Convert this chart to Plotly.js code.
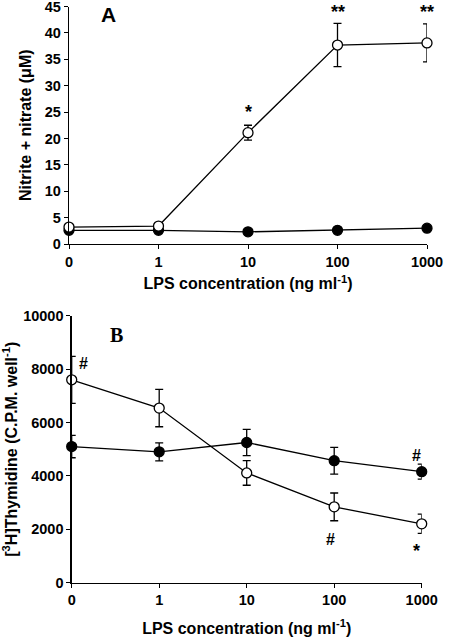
<!DOCTYPE html>
<html>
<head>
<meta charset="utf-8">
<script src="https://cdn.plot.ly/plotly-3.0.1.min.js"></script>
<style>html,body{margin:0;padding:0;background:#fff;}#chart{width:451px;height:640px;}</style>
</head>
<body>
<div id="chart"></div>
<script>
// Categories (LPS concentration, ng/ml) shown at equal spacing
const categories = ['0', '1', '10', '100', '1000'];
const catPos = [0, 1, 2, 3, 4];

// Panel A: nitrite + nitrate (µM)
const nitriteOpen = [3.2, 3.4, 21.1, 37.7, 38.1];
const nitriteOpenErr = [0.3, 0.3, 1.4, 4.1, 3.6];
const nitriteFilled = [2.6, 2.6, 2.3, 2.6, 3.0];
const nitriteFilledErr = [0.2, 0.2, 0.2, 0.2, 0.2];

// Panel B: [3H]thymidine (C.P.M. per well)
const thymOpen = [7600, 6540, 4110, 2840, 2205];
const thymOpenErr = [880, 700, 460, 520, 360];
const thymFilled = [5100, 4900, 5250, 4570, 4160];
const thymFilledErr = [420, 340, 490, 500, 280];

const W = 451, H = 640;
const FONT = 'Liberation Sans, Arial, sans-serif';

function mk(y, err, open, xa, ya) {
  return {
    x: catPos, y: y, xaxis: xa, yaxis: ya, type: 'scatter', mode: 'lines+markers',
    cliponaxis: false, showlegend: false,
    line: {color: '#000', width: 1.3},
    marker: {symbol: 'circle', size: 10, color: open ? '#fff' : '#000', line: {color: '#000', width: 1.3}},
    error_y: {type: 'data', array: err, visible: true, color: '#000', thickness: 1.3, width: 4}
  };
}

const data = [
  mk(nitriteFilled, nitriteFilledErr, false, 'x', 'y'),
  mk(nitriteOpen, nitriteOpenErr, true, 'x', 'y'),
  mk(thymFilled, thymFilledErr, false, 'x2', 'y2'),
  mk(thymOpen, thymOpenErr, true, 'x2', 'y2')
];

const tickFont = {family: FONT, size: 14.5, color: '#000', weight: 'bold'};
const titleFont = {family: FONT, size: 16, color: '#000', weight: 'bold'};

function xax(dom, anchor, standoff) {
  return {
    domain: dom, anchor: anchor, range: [0, 4], tickvals: catPos, ticktext: categories,
    showline: true, linecolor: '#000', linewidth: 1.3, ticks: 'outside', ticklen: 4, tickcolor: '#000',
    showgrid: false, zeroline: false, tickfont: tickFont, ticklabeloverflow: 'allow',
    title: {text: 'LPS concentration (ng ml<sup>-1</sup>)', font: titleFont, standoff: standoff}
  };
}
function yax(dom, anchor, range, dtick, title, standoff) {
  return {
    domain: dom, anchor: anchor, range: range, dtick: dtick, tickformat: 'd',
    showline: true, linecolor: '#000', linewidth: 1.3, ticks: 'outside', ticklen: 4, tickcolor: '#000',
    showgrid: false, zeroline: false, tickfont: tickFont, ticklabeloverflow: 'allow',
    title: {text: title, font: titleFont, standoff: standoff}
  };
}

const layout = {
  width: W, height: H,
  margin: {l: 0, r: 0, t: 0, b: 0},
  paper_bgcolor: '#fff', plot_bgcolor: '#fff',
  xaxis: xax([69 / W, 427 / W], 'y', 9),
  yaxis: yax([1 - 244 / H, 1 - 6.5 / H], 'x', [0, 45], 5, 'Nitrite + nitrate (μM)', 9),
  xaxis2: xax([71.7 / W, 421.7 / W], 'y2', 15),
  yaxis2: yax([1 - 582.7 / H, 1 - 315.7 / H], 'x2', [0, 10000], 2000, '[<sup>3</sup>H]Thymidine (C.P.M. well<sup>-1</sup>)', 4),
  annotations: [
    {xref: 'x', yref: 'y', x: 0.44, y: 43.4, text: 'A', showarrow: false, font: {family: FONT, size: 21, color: '#000', weight: 'bold'}},
    {xref: 'x', yref: 'y', x: 2, y: 25.0, text: '*', showarrow: false, font: {family: FONT, size: 18, color: '#000', weight: 'bold'}},
    {xref: 'x', yref: 'y', x: 3, y: 44.0, text: '**', showarrow: false, font: {family: FONT, size: 18, color: '#000', weight: 'bold'}},
    {xref: 'x', yref: 'y', x: 4, y: 44.0, text: '**', showarrow: false, font: {family: FONT, size: 18, color: '#000', weight: 'bold'}},
    {xref: 'x2', yref: 'y2', x: 0.51, y: 9270, text: 'B', showarrow: false, font: {family: 'Liberation Serif, Times New Roman, serif', size: 20, color: '#000', weight: 'bold'}},
    {xref: 'x2', yref: 'y2', x: 0.14, y: 8200, text: '#', showarrow: false, font: {family: FONT, size: 16, color: '#000', weight: 'bold'}},
    {xref: 'x2', yref: 'y2', x: 3.94, y: 4780, text: '#', showarrow: false, font: {family: FONT, size: 16, color: '#000', weight: 'bold'}},
    {xref: 'x2', yref: 'y2', x: 2.96, y: 1620, text: '#', showarrow: false, font: {family: FONT, size: 16, color: '#000', weight: 'bold'}},
    {xref: 'x2', yref: 'y2', x: 3.94, y: 1200, text: '*', showarrow: false, font: {family: FONT, size: 18, color: '#000', weight: 'bold'}}
  ]
};

Plotly.newPlot('chart', data, layout, {displayModeBar: false, staticPlot: true});
</script>
</body>
</html>
